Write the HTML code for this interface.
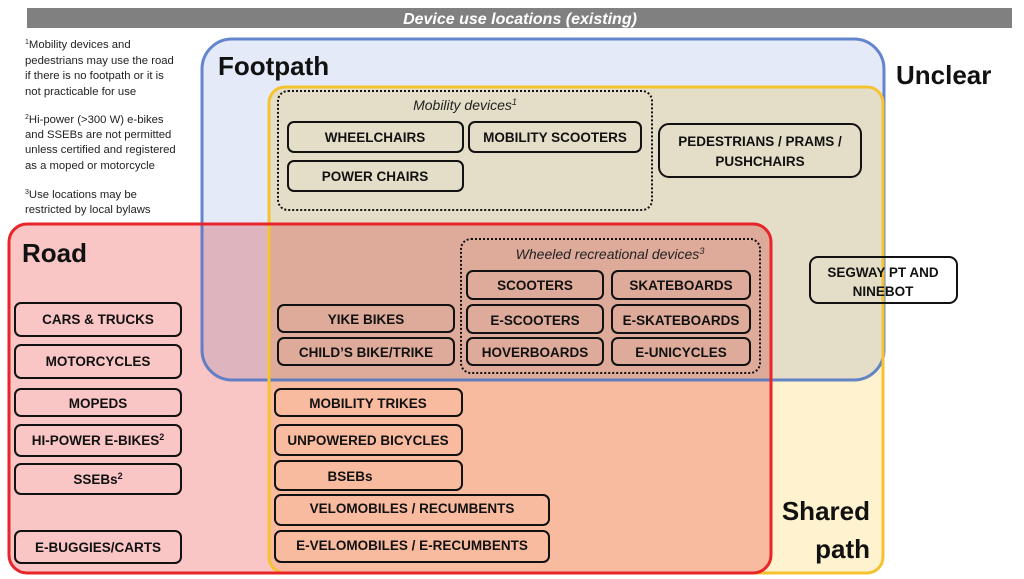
<!DOCTYPE html>
<html><head><meta charset="utf-8"><style>
html,body{margin:0;padding:0;background:#fff}
svg{display:block}
text{font-family:"Liberation Sans",sans-serif}
.b{font-weight:bold;font-size:13.5px;text-anchor:middle;fill:#111}
.bx{fill:none;stroke:#111;stroke-width:2}
.fn{font-size:11.3px;fill:#222}
.big{font-weight:bold;font-size:26px;fill:#111}
</style></head><body>
<svg width="1024" height="579" viewBox="0 0 1024 579" xmlns="http://www.w3.org/2000/svg">
<rect x="27" y="8" width="985" height="20" fill="#808080"/>
<text x="520" y="24" text-anchor="middle" font-size="16" font-weight="bold" font-style="italic" fill="#fff">Device use locations (existing)</text>
<g style="isolation:isolate">
<rect x="202" y="39" width="682" height="341" rx="30" fill="#e4eaf7"/>
<rect x="269" y="87" width="614" height="486" rx="16" fill="#fff2cf" style="mix-blend-mode:multiply"/>
<rect x="9" y="224" width="762" height="349" rx="18" fill="#f9c5c5" style="mix-blend-mode:multiply"/>
</g>
<rect x="202" y="39" width="682" height="341" rx="30" fill="none" stroke="#4a72c4" stroke-width="3" opacity="0.85"/>
<rect x="269" y="87" width="614" height="486" rx="16" fill="none" stroke="#f5c230" stroke-width="3"/>
<rect x="9" y="224" width="762" height="349" rx="18" fill="none" stroke="#e8252a" stroke-width="3"/>
<text x="25" y="48" class="fn"><tspan font-size="7" dy="-4">1</tspan><tspan dy="4">Mobility devices and</tspan></text>
<text x="25" y="64" class="fn">pedestrians may use the road</text>
<text x="25" y="79" class="fn">if there is no footpath or it is</text>
<text x="25" y="95" class="fn">not practicable for use</text>
<text x="25" y="123" class="fn"><tspan font-size="7" dy="-4">2</tspan><tspan dy="4">Hi-power (&gt;300 W) e-bikes</tspan></text>
<text x="25" y="138" class="fn">and SSEBs are not permitted</text>
<text x="25" y="153" class="fn">unless certified and registered</text>
<text x="25" y="169" class="fn">as a moped or motorcycle</text>
<text x="25" y="198" class="fn"><tspan font-size="7" dy="-4">3</tspan><tspan dy="4">Use locations may be</tspan></text>
<text x="25" y="213" class="fn">restricted by local bylaws</text>
<text x="218" y="75" class="big">Footpath</text>
<text x="896" y="84" class="big">Unclear</text>
<text x="22" y="262" class="big">Road</text>
<text x="870" y="520" class="big" text-anchor="end">Shared</text>
<text x="870" y="558" class="big" text-anchor="end">path</text>
<rect x="278" y="91" width="374" height="119" rx="10" fill="none" stroke="#111" stroke-width="2" stroke-dasharray="2 2"/>
<text x="465" y="110" text-anchor="middle" font-size="14" font-style="italic" fill="#222">Mobility devices<tspan font-size="9" dy="-5">1</tspan></text>
<rect x="461" y="239" width="299" height="134" rx="10" fill="none" stroke="#111" stroke-width="2" stroke-dasharray="2 2"/>
<text x="610" y="259" text-anchor="middle" font-size="14" font-style="italic" fill="#222">Wheeled recreational devices<tspan font-size="9" dy="-5">3</tspan></text>
<g>
<rect class="bx" x="288" y="122" width="175" height="30" rx="6"/><text class="b" x="375" y="142">WHEELCHAIRS</text>
<rect class="bx" x="469" y="122" width="172" height="30" rx="6"/><text class="b" x="555" y="142">MOBILITY SCOOTERS</text>
<rect class="bx" x="288" y="161" width="175" height="30" rx="6"/><text class="b" x="375" y="181">POWER CHAIRS</text>
<rect class="bx" x="659" y="124" width="202" height="53" rx="10"/><text class="b" x="760" y="146">PEDESTRIANS / PRAMS /</text><text class="b" x="760" y="166">PUSHCHAIRS</text>
<rect class="bx" x="810" y="257" width="147" height="46" rx="8"/><text class="b" x="883" y="277">SEGWAY PT AND</text><text class="b" x="883" y="296">NINEBOT</text>
<rect class="bx" x="467" y="271" width="136" height="28" rx="6"/><text class="b" x="535" y="290">SCOOTERS</text>
<rect class="bx" x="612" y="271" width="138" height="28" rx="6"/><text class="b" x="681" y="290">SKATEBOARDS</text>
<rect class="bx" x="467" y="305" width="136" height="28" rx="6"/><text class="b" x="535" y="325">E-SCOOTERS</text>
<rect class="bx" x="612" y="305" width="138" height="28" rx="6"/><text class="b" x="681" y="325">E-SKATEBOARDS</text>
<rect class="bx" x="467" y="338" width="136" height="27" rx="6"/><text class="b" x="535" y="357">HOVERBOARDS</text>
<rect class="bx" x="612" y="338" width="138" height="27" rx="6"/><text class="b" x="681" y="357">E-UNICYCLES</text>
<rect class="bx" x="278" y="305" width="176" height="27" rx="6"/><text class="b" x="366" y="324">YIKE BIKES</text>
<rect class="bx" x="278" y="338" width="176" height="27" rx="6"/><text class="b" x="366" y="357">CHILD’S BIKE/TRIKE</text>
<rect class="bx" x="15" y="303" width="166" height="33" rx="6"/><text class="b" x="98" y="324">CARS &amp; TRUCKS</text>
<rect class="bx" x="15" y="345" width="166" height="33" rx="6"/><text class="b" x="98" y="366">MOTORCYCLES</text>
<rect class="bx" x="15" y="389" width="166" height="27" rx="6"/><text class="b" x="98" y="408">MOPEDS</text>
<rect class="bx" x="15" y="425" width="166" height="31" rx="6"/><text class="b" x="98" y="445">HI-POWER E-BIKES<tspan font-size="9" dy="-5">2</tspan></text>
<rect class="bx" x="15" y="464" width="166" height="30" rx="6"/><text class="b" x="98" y="484">SSEBs<tspan font-size="9" dy="-5">2</tspan></text>
<rect class="bx" x="15" y="531" width="166" height="32" rx="6"/><text class="b" x="98" y="552">E-BUGGIES/CARTS</text>
<rect class="bx" x="275" y="389" width="187" height="27" rx="6"/><text class="b" x="368" y="408">MOBILITY TRIKES</text>
<rect class="bx" x="275" y="425" width="187" height="30" rx="6"/><text class="b" x="368" y="445">UNPOWERED BICYCLES</text>
<rect class="bx" x="275" y="461" width="187" height="29" rx="6"/><text class="b" x="350" y="481">BSEBs</text>
<rect class="bx" x="275" y="495" width="274" height="30" rx="6"/><text class="b" x="412" y="513">VELOMOBILES / RECUMBENTS</text>
<rect class="bx" x="275" y="531" width="274" height="31" rx="6"/><text class="b" x="412" y="550">E-VELOMOBILES / E-RECUMBENTS</text>
</g>
</svg>
</body></html>
